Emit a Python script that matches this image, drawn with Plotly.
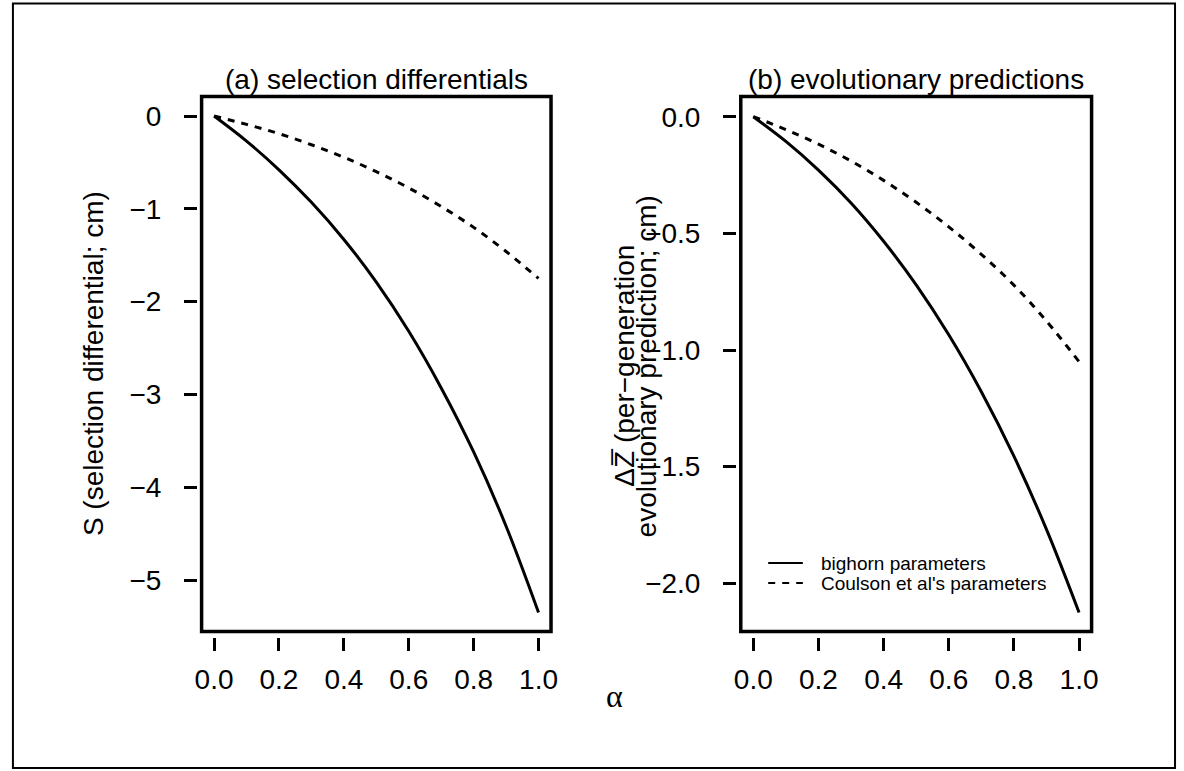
import plotly.graph_objects as go

# ---------------- data ----------------
alpha = [0.0, 0.1, 0.2, 0.3, 0.4, 0.5, 0.6, 0.7, 0.8, 0.9, 1.0]
s_bighorn = [0.0, -0.27, -0.58, -0.93, -1.33, -1.79, -2.32, -2.93, -3.62, -4.42, -5.35]
s_coulson = [0.0, -0.09, -0.19, -0.31, -0.445, -0.60, -0.775, -0.975, -1.20, -1.46, -1.75]
dz_bighorn = [0.0, -0.106, -0.229, -0.370, -0.534, -0.721, -0.935, -1.179, -1.455, -1.769, -2.125]
dz_coulson = [0.0, -0.055, -0.118, -0.190, -0.273, -0.367, -0.472, -0.590, -0.722, -0.876, -1.05]

x_ticks = [0.0, 0.2, 0.4, 0.6, 0.8, 1.0]
x_ticktext = ["0.0", "0.2", "0.4", "0.6", "0.8", "1.0"]
s_ticks = [0, -1, -2, -3, -4, -5]
s_ticktext = ["0", "\u22121", "\u22122", "\u22123", "\u22124", "\u22125"]
dz_ticks = [0.0, -0.5, -1.0, -1.5, -2.0]
dz_ticktext = ["0.0", "\u22120.5", "\u22121.0", "\u22121.5", "\u22122.0"]

titles = ["(a) selection differentials", "(b) evolutionary predictions"]
series_names = ["bighorn parameters", "Coulson et al's parameters"]
ylab_a = "S (selection differential; cm)"
ylab_b = ["\u0394Z\u0305 (per\u2212generation", "evolutionary prediction; cm)"]

# ---------------- layout helpers ----------------
W, H = 1184, 771
def px(x):
    return x / W
def py(y):
    return 1 - y / H

FONT = "Liberation Sans, Arial, sans-serif"
FS = 28
BLACK = "black"

fig = go.Figure()

# panel (a)
fig.add_trace(go.Scatter(x=alpha, y=s_bighorn, mode="lines", name=series_names[0],
                         line=dict(color=BLACK, width=3, shape="spline"),
                         xaxis="x", yaxis="y", showlegend=False))
fig.add_trace(go.Scatter(x=alpha, y=s_coulson, mode="lines", name=series_names[1],
                         line=dict(color=BLACK, width=3, dash="7px,7px", shape="spline"),
                         xaxis="x", yaxis="y", showlegend=False))
# panel (b)
fig.add_trace(go.Scatter(x=alpha, y=dz_bighorn, mode="lines", name=series_names[0],
                         line=dict(color=BLACK, width=3, shape="spline"),
                         xaxis="x2", yaxis="y2", showlegend=False))
fig.add_trace(go.Scatter(x=alpha, y=dz_coulson, mode="lines", name=series_names[1],
                         line=dict(color=BLACK, width=3, dash="7px,7px", shape="spline"),
                         xaxis="x2", yaxis="y2", showlegend=False))

common_x = dict(range=[-0.04, 1.04], tickvals=x_ticks, ticktext=x_ticktext,
                showgrid=False, zeroline=False, showline=False,
                ticks="outside", ticklen=13, tickwidth=3, tickcolor=BLACK,
                tickfont=dict(family=FONT, size=FS, color=BLACK),
                anchor="free", position=py(637), ticklabelstandoff=4)
common_y = dict(showgrid=False, zeroline=False, showline=False,
                ticks="outside", ticklen=13, tickwidth=3, tickcolor=BLACK,
                tickfont=dict(family=FONT, size=FS, color=BLACK),
                anchor="free", ticklabelstandoff=17,
                domain=[py(632), py(96)])

L1, R1 = 197.1, 551.1
L2, R2 = 741.8, 1097.2
TOP, BOT = 96, 632

fig.update_layout(
    width=W, height=H,
    margin=dict(l=0, r=0, t=0, b=0),
    paper_bgcolor="white", plot_bgcolor="white",
    xaxis=dict(domain=[px(L1), px(R1)], **common_x),
    xaxis2=dict(domain=[px(L2), px(R2)], **common_x),
    yaxis=dict(range=[-5.560, 0.2155], tickvals=s_ticks, ticktext=s_ticktext,
               position=px(193), **common_y),
    yaxis2=dict(range=[-2.2087, 0.0887], tickvals=dz_ticks, ticktext=dz_ticktext,
                position=px(737.5), **common_y),
    showlegend=False,
)

shapes = []
# plot boxes
for (l, r) in [(L1, R1), (L2, R2)]:
    shapes.append(dict(type="rect", xref="paper", yref="paper",
                       x0=px(l + 0.5), x1=px(r - 0.5), y0=py(BOT - 0.5), y1=py(TOP + 0.5),
                       line=dict(color=BLACK, width=3.5)))
# outer frame
shapes.append(dict(type="rect", xref="paper", yref="paper",
                   x0=px(7), x1=px(1181), y0=py(768), y1=py(3.5),
                   line=dict(color=BLACK, width=2)))
# legend samples (panel b)
shapes.append(dict(type="line", xref="paper", yref="paper",
                   x0=px(770), x1=px(805), y0=py(563), y1=py(563),
                   line=dict(color=BLACK, width=2.2)))
shapes.append(dict(type="line", xref="paper", yref="paper",
                   x0=px(770), x1=px(805), y0=py(583), y1=py(583),
                   line=dict(color=BLACK, width=2.2, dash="7px,7px")))

annotations = []
# titles
for txt, cx in [(titles[0], (L1 + R1) / 2), (titles[1], (L2 + R2) / 2)]:
    annotations.append(dict(text=txt, xref="paper", yref="paper", x=px(cx), y=py(TOP + 1),
                            xanchor="center", yanchor="bottom", showarrow=False,
                            font=dict(family=FONT, size=FS, color=BLACK)))
# y labels
annotations.append(dict(text=ylab_a, xref="paper", yref="paper", x=px(88), y=py(364),
                        xanchor="center", yanchor="middle", textangle=-90, showarrow=False,
                        font=dict(family=FONT, size=FS, color=BLACK)))
for txt, cx in [(ylab_b[0], 624), (ylab_b[1], 647)]:
    annotations.append(dict(text=txt, xref="paper", yref="paper", x=px(cx), y=py(366),
                            xanchor="center", yanchor="middle", textangle=-90, showarrow=False,
                            font=dict(family=FONT, size=FS, color=BLACK)))
# x label
annotations.append(dict(text="\u03b1", xref="paper", yref="paper", x=px(615), y=py(696),
                        xanchor="center", yanchor="middle", showarrow=False,
                        font=dict(family="Liberation Serif, Times New Roman, serif", size=32, color=BLACK)))
# legend text
for txt, yy in [(series_names[0], 563), (series_names[1], 583)]:
    annotations.append(dict(text=txt, xref="paper", yref="paper", x=px(821), y=py(yy),
                            xanchor="left", yanchor="middle", showarrow=False,
                            font=dict(family=FONT, size=19, color=BLACK)))

fig.update_layout(shapes=shapes, annotations=annotations)

fig.write_html(
    "out.html",
    config={"displayModeBar": False},
    post_script="document.body.style.margin='0px';document.body.style.padding='0px';"
                "document.documentElement.style.overflow='hidden';",
)
